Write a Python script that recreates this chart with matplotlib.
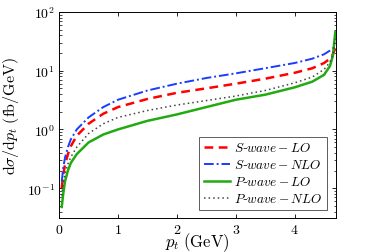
import math
import matplotlib
matplotlib.use("Agg")
import matplotlib.pyplot as plt
from matplotlib.ticker import LogLocator, FixedLocator, NullLocator, FuncFormatter

plt.rcParams['mathtext.fontset'] = 'cm'
plt.rcParams['font.family'] = ['DejaVu Serif']

pt = [0.045, 0.07, 0.1, 0.15, 0.2, 0.3, 0.5, 0.75, 1.0, 1.5, 2.0, 2.5, 3.0, 3.5, 4.0, 4.3, 4.5, 4.6, 4.65, 4.69]
s_nlo = [0.13, 0.22, 0.33, 0.5, 0.68, 1.0, 1.6, 2.4, 3.2, 4.6, 6.0, 7.5, 9.0, 11, 13.5, 16, 19, 22, 24, 26]
s_lo = [0.1, 0.17, 0.25, 0.38, 0.52, 0.78, 1.25, 1.85, 2.4, 3.3, 4.2, 5.0, 6.0, 7.3, 9.2, 11, 13.5, 16, 19, 24]
p_nlo = [0.075, 0.12, 0.18, 0.26, 0.34, 0.5, 0.85, 1.25, 1.6, 2.1, 2.6, 3.1, 3.7, 4.6, 6.2, 7.8, 10.5, 14, 19, 35]
p_lo = [0.048, 0.08, 0.13, 0.2, 0.27, 0.38, 0.6, 0.82, 1.0, 1.4, 1.8, 2.4, 3.2, 3.9, 5.2, 6.5, 8.5, 12, 18, 45]

labels = [r'$S$-$wave-LO$', r'$S$-$wave-NLO$', r'$P$-$wave-LO$', r'$P$-$wave-NLO$']
xticks = [0, 1, 2, 3, 4]

fig = plt.figure(figsize=(3.74, 2.53), dpi=100)
ax = fig.add_axes([0.158, 0.134, 0.740, 0.815])

ax.plot(pt, s_lo, color='#ff0000', ls=(0, (3.5, 2.2)), lw=1.8, label=labels[0])
ax.plot(pt, s_nlo, color='#1a3cff', ls=(0, (5, 1.5, 1, 1.5)), lw=1.4, label=labels[1])
ax.plot(pt, p_lo, color='#22aa11', ls='-', lw=1.8, label=labels[2])
ax.plot(pt, p_nlo, color='#444444', ls=(0, (1, 2)), lw=1.1, label=labels[3])

ax.set_yscale('log')
ax.set_xlim(0, 4.7)
ax.set_ylim(0.031, 100)
ax.xaxis.set_major_locator(FixedLocator(xticks))
ax.xaxis.set_minor_locator(NullLocator())
ax.yaxis.set_major_locator(LogLocator(base=10, numticks=10))
ax.yaxis.set_minor_locator(LogLocator(base=10, subs=range(2, 10), numticks=10))
ax.yaxis.set_major_formatter(FuncFormatter(lambda v, p: r'$10^{%d}$' % round(math.log10(v))))
ax.xaxis.set_major_formatter(FuncFormatter(lambda v, p: r'$%d$' % v))
ax.tick_params(which='both', direction='in', top=True, right=True, labelsize=10)
ax.tick_params(which='major', length=3, width=0.6, pad=3)
ax.tick_params(which='minor', length=1.8, width=0.5)
for s in ax.spines.values():
    s.set_linewidth(0.7)

ax.set_xlabel(r'$p_t\;(\mathrm{GeV})$', fontsize=12, labelpad=-4)
ax.set_ylabel(r'$\mathrm{d}\sigma/\mathrm{d}p_t\;(\mathrm{fb/GeV})$', fontsize=11.5, labelpad=4)

leg = ax.legend(loc='lower right', bbox_to_anchor=(0.968, 0.04), fontsize=9.5, frameon=True,
                fancybox=False, edgecolor='#333333', handlelength=2.0, handletextpad=0.3,
                borderpad=0.35, labelspacing=0.3, borderaxespad=0)
leg.get_frame().set_linewidth(0.7)

fig.savefig('out.png', dpi=100)
